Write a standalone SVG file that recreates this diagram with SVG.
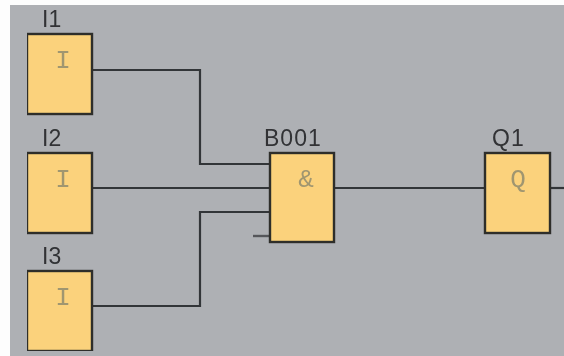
<svg xmlns="http://www.w3.org/2000/svg" width="564" height="356" viewBox="0 0 564 356">
<style>
.box{fill:#fbd27c;stroke:#2e2e2c;stroke-width:2.4}
.wire{fill:none;stroke:#333537;stroke-width:2.2}
.stub{fill:none;stroke:#55575a;stroke-width:2.4}
.lbl{font-family:"Liberation Sans",Arial,sans-serif;font-size:23px;fill:#303235}
.wide{letter-spacing:1px}
.sym{font-family:"Liberation Mono","Courier New",monospace;font-size:26px;fill:#a09670;text-anchor:middle}
</style>
<defs><filter id="soft" x="0" y="0" width="100%" height="100%"><feGaussianBlur stdDeviation="0.55"/></filter></defs>
<rect width="564" height="356" fill="#fdfdfd"/>
<rect x="10" y="5" width="554" height="351" fill="#aeb0b4"/>
<g filter="url(#soft)">
<g id="connectors">
<path class="wire" d="M92 70H200V164H270"/>
<path class="wire" d="M92 188H270"/>
<path class="wire" d="M92 306H200V212H270"/>
<path class="stub" d="M253 236H270"/>
<path class="wire" d="M334 188H485"/>
<path class="wire" d="M550 188H564"/>
</g>
<g id="I1"><rect class="box" x="27" y="34" width="65" height="80"/><text class="lbl" x="42" y="27">I1</text><text class="sym" x="63" y="68">I</text></g>
<g id="I2"><rect class="box" x="27" y="153" width="65" height="80"/><text class="lbl" x="42" y="146">I2</text><text class="sym" x="63" y="187">I</text></g>
<g id="I3"><rect class="box" x="27" y="271" width="65" height="80"/><text class="lbl" x="42" y="264">I3</text><text class="sym" x="63" y="305">I</text></g>
<g id="B001"><rect class="box" x="270" y="153" width="64" height="89"/><text class="lbl wide" x="264" y="146">B001</text><text class="sym" x="306" y="187">&amp;</text></g>
<g id="Q1"><rect class="box" x="485" y="153" width="65" height="80"/><text class="lbl wide" x="492" y="146">Q1</text><text class="sym" x="518" y="187">Q</text></g>
</g>
</svg>
